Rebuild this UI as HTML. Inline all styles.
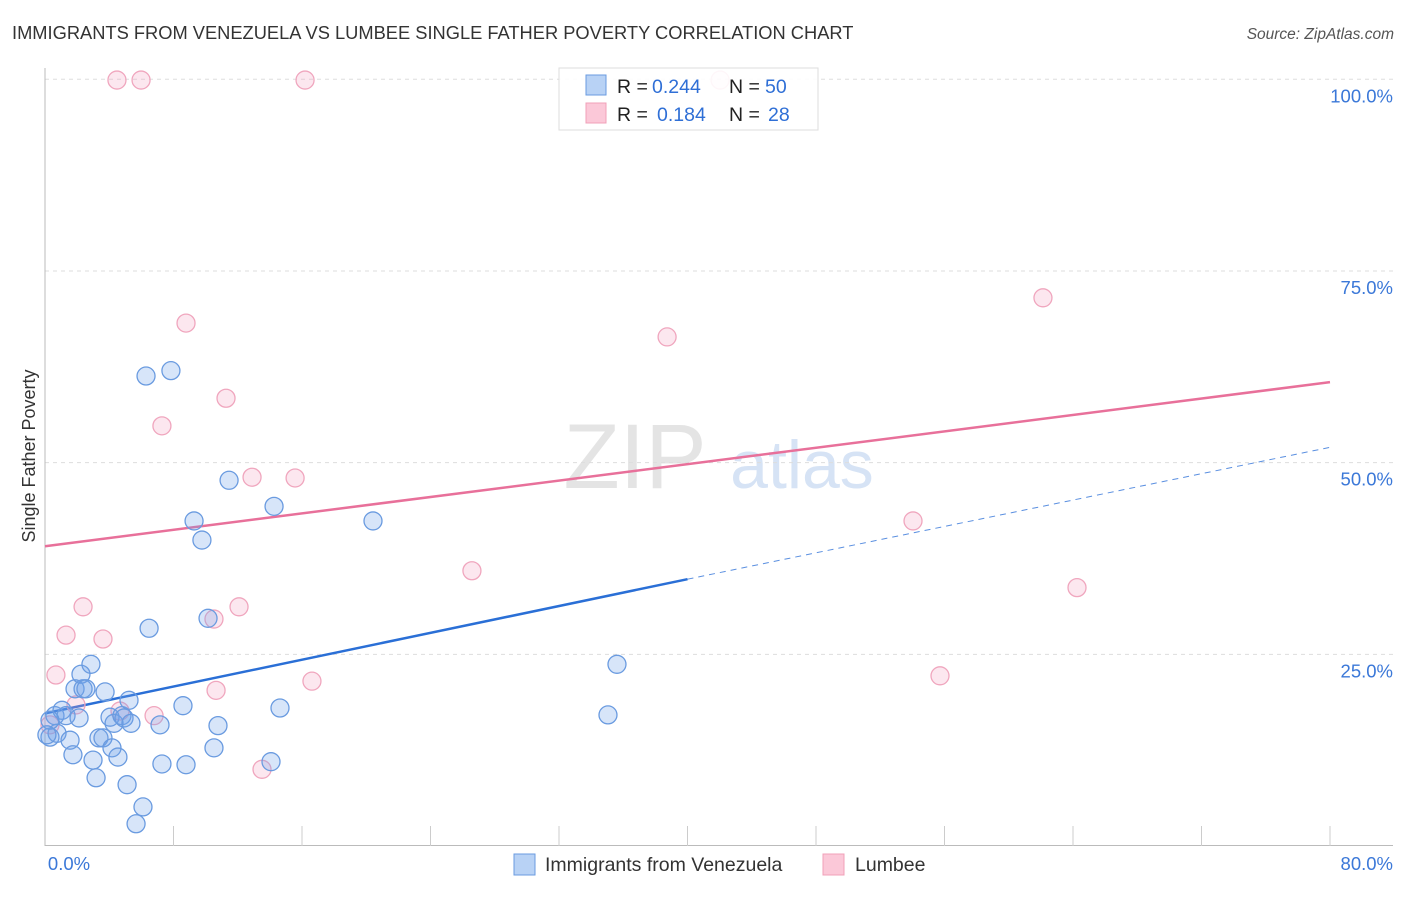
<!DOCTYPE html>
<html><head><meta charset="utf-8"><style>
body{margin:0;background:#fff;font-family:"Liberation Sans",sans-serif;}
svg text{font-family:"Liberation Sans",sans-serif;}
</style></head><body>
<svg id="chart" width="1406" height="892" xmlns="http://www.w3.org/2000/svg">
<text x="12" y="39" font-size="18.3" fill="#333">IMMIGRANTS FROM VENEZUELA VS LUMBEE SINGLE FATHER POVERTY CORRELATION CHART</text>
<text x="1394" y="39" font-size="15.5" fill="#555" font-style="italic" text-anchor="end">Source: ZipAtlas.com</text>
<g>
<text x="635" y="488" font-size="92" fill="#e4e4e4" font-family="Liberation Serif" text-anchor="middle">ZIP</text>
<text x="802" y="488" font-size="68" fill="#d6e3f5" text-anchor="middle">atlas</text>
</g>
<g id="grid"></g>
<g id="axes"></g>
<g id="lines"></g>
<g id="points"></g>
<text transform="translate(35,456) rotate(-90)" font-size="18" fill="#333" text-anchor="middle">Single Father Poverty</text>
<g>
<rect x="559" y="68" width="259" height="62" fill="rgba(255,255,255,0.9)" stroke="#ddd"/>
<rect x="586" y="75" width="20" height="20" fill="#b8d2f5" stroke="#6a9be0"/>
<rect x="586" y="103" width="20" height="20" fill="#fbc8d8" stroke="#f0a0b8"/>
<text x="617" y="93" font-size="19.5" fill="#222">R = <tspan x="652" fill="#2f6fd6">0.244</tspan><tspan x="729">N = </tspan><tspan x="765" fill="#2f6fd6">50</tspan></text>
<text x="617" y="121" font-size="19.5" fill="#222">R = <tspan x="657" fill="#2f6fd6">0.184</tspan><tspan x="729">N = </tspan><tspan x="768" fill="#2f6fd6">28</tspan></text>
</g>
<g>
<rect x="514" y="854" width="21" height="21" fill="#b8d2f5" stroke="#6a9be0"/>
<text x="545" y="871" font-size="19.5" fill="#333">Immigrants from Venezuela</text>
<rect x="823" y="854" width="21" height="21" fill="#fbc8d8" stroke="#f0a0b8"/>
<text x="855" y="871" font-size="19.5" fill="#333">Lumbee</text>
</g>
</svg>
<script>
const yTicks=[25,50,75,100];
const yTickLabels=["25.0%","50.0%","75.0%","100.0%"];
const blueX=[0.31,0.62,0.75,1.06,1.31,1.56,1.74,1.87,2.12,2.24,2.37,2.55,2.86,2.99,3.18,3.36,3.61,3.74,4.05,4.17,4.30,4.54,4.79,4.92,5.11,5.23,5.35,5.67,6.10,6.48,6.29,7.16,7.28,7.84,8.59,8.78,9.28,9.77,10.15,10.52,10.77,11.46,14.07,14.26,14.63,20.42,35.05,35.61,0.31,0.12];
const blueY=[14.2,17.0,14.7,17.7,17.0,13.8,11.9,20.5,16.7,22.4,20.5,20.5,23.7,11.2,8.9,14.1,14.1,20.1,16.8,12.8,16.0,11.6,17.0,16.7,8.0,19.0,16.0,2.9,5.1,28.4,61.3,15.8,10.7,62.0,18.3,10.6,42.4,39.9,29.7,12.8,15.7,47.7,11.0,44.3,18.0,42.4,17.1,23.7,16.4,14.5];
const pinkX=[4.48,5.98,16.19,42.03,8.78,11.27,7.28,12.89,15.57,62.13,38.73,54.04,26.58,64.25,2.37,1.31,3.61,12.08,10.52,0.68,10.65,16.62,55.72,1.93,4.67,6.79,13.51,0.31];
const pinkY=[99.9,99.9,99.9,99.9,68.2,58.4,54.8,48.1,48.0,71.5,66.4,42.4,35.9,33.7,31.2,27.5,27.0,31.2,29.6,22.3,20.3,21.5,22.2,18.4,17.6,17.0,10.0,15.8];
const blueTrendX=[0,40,80];
const blueTrendY=[17.3,34.8,52.0];
const pinkTrendX=[0,80];
const pinkTrendY=[39.1,60.5];

const NS="http://www.w3.org/2000/svg";
const sx=v=>45+v*1285/80;
const sy=v=>846-v*7.667;
function mk(tag,attrs,parent){const e=document.createElementNS(NS,tag);for(const k in attrs)e.setAttribute(k,attrs[k]);document.getElementById(parent).appendChild(e);return e;}

yTicks.forEach((t,i)=>{
  const g=mk('line',{x1:45,x2:1393,y1:sy(t),y2:sy(t),stroke:'#ddd','stroke-dasharray':'4,4'},'grid');
  
  
  const l=mk('text',{x:1393,y:sy(t)+23,'font-size':18.5,fill:'#3b78d8','text-anchor':'end'},'grid');
  l.textContent=yTickLabels[i];
  
  
});
let a=mk('line',{x1:45,x2:45,y1:68,y2:846,stroke:'#bbb'},'axes');


a=mk('line',{x1:45,x2:1393,y1:845.5,y2:845.5,stroke:'#bbb'},'axes');


for(let i=1;i<=10;i++){
  const t=mk('line',{x1:sx(i*8),x2:sx(i*8),y1:826,y2:846,stroke:'#ccc'},'axes');
  
  
}
[[0,'0.0%',69,'middle'],[80,'80.0%',1393,'end']].forEach(d=>{
  const t=mk('text',{x:d[2],y:870,'font-size':18.5,fill:'#3b78d8','text-anchor':d[3]},'axes');
  t.textContent=d[1];
  
  
});

let ln=mk('line',{x1:sx(blueTrendX[0]),y1:sy(blueTrendY[0]),x2:sx(blueTrendX[1]),y2:sy(blueTrendY[1]),stroke:'#2a6fd6','stroke-width':2.5},'lines');


ln=mk('line',{x1:sx(blueTrendX[1]),y1:sy(blueTrendY[1]),x2:sx(blueTrendX[2]),y2:sy(blueTrendY[2]),stroke:'#5a8fe0','stroke-width':1,'stroke-dasharray':'6,5'},'lines');


ln=mk('line',{x1:sx(pinkTrendX[0]),y1:sy(pinkTrendY[0]),x2:sx(pinkTrendX[1]),y2:sy(pinkTrendY[1]),stroke:'#e8709a','stroke-width':2.5},'lines');



pinkX.forEach((x,i)=>{
  const c=mk('circle',{cx:sx(x),cy:sy(pinkY[i]),r:9,fill:'rgba(245,160,190,0.25)',stroke:'#f0a6be','stroke-width':1.3},'points');
  
  
});
blueX.forEach((x,i)=>{
  const c=mk('circle',{cx:sx(x),cy:sy(blueY[i]),r:9,fill:'rgba(110,160,235,0.28)',stroke:'#6a9be0','stroke-width':1.3},'points');
  
  
});
</script>
</body></html>
